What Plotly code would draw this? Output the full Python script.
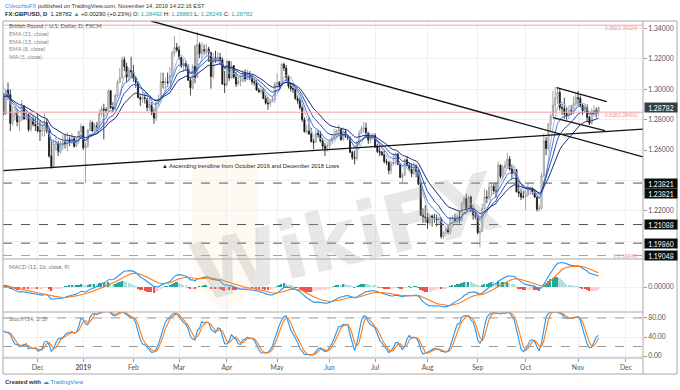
import numpy as np
import pandas as pd
import plotly.graph_objects as go

# ---------------- data (GBP/USD daily, FXCM) ----------------
first_open = 1.3005
holidays = ["2018-12-25", "2019-01-01"]

close_pre = [1.2975, 1.2970, 1.2915, 1.2820, 1.2810, 1.2740, 1.2710, 1.2770, 1.2990, 1.2960, 1.3040, 1.3080, 1.3125, 1.3045]
high_pre = [1.3045, 1.3010, 1.3010, 1.2930, 1.2860, 1.2855, 1.2780, 1.2790, 1.3010, 1.3045, 1.3045, 1.3100, 1.3175, 1.3125]
low_pre = [1.2960, 1.2915, 1.2910, 1.2815, 1.2775, 1.2730, 1.2695, 1.2700, 1.2765, 1.2940, 1.2915, 1.3000, 1.3035, 1.3030]

close_nov18 = [1.2970, 1.2836, 1.2994, 1.2965, 1.2775, 1.2830, 1.2845, 1.2785, 1.2797, 1.2890, 1.2805, 1.2830, 1.2735, 1.2805, 1.2770, 1.2760]
high_nov18 = [1.3050, 1.2975, 1.3000, 1.3045, 1.3000, 1.2880, 1.2885, 1.2870, 1.2825, 1.2930, 1.2895, 1.2865, 1.2840, 1.2855, 1.2830, 1.2815]
low_nov18 = [1.2960, 1.2825, 1.2830, 1.2930, 1.2725, 1.2760, 1.2795, 1.2755, 1.2725, 1.2795, 1.2800, 1.2795, 1.2720, 1.2720, 1.2755, 1.2725]

close_dec18 = [1.2725, 1.2725, 1.2730, 1.2780, 1.2725, 1.2560, 1.2490, 1.2640, 1.2640, 1.2585, 1.2630, 1.2650, 1.2640, 1.2670, 1.2650, 1.2675, 1.2625, 1.2660, 1.2720, 1.2755]
high_dec18 = [1.2840, 1.2795, 1.2785, 1.2840, 1.2810, 1.2745, 1.2670, 1.2670, 1.2690, 1.2660, 1.2660, 1.2700, 1.2700, 1.2720, 1.2690, 1.2710, 1.2685, 1.2680, 1.2730, 1.2775]
low_dec18 = [1.2715, 1.2660, 1.2690, 1.2690, 1.2710, 1.2550, 1.2477, 1.2480, 1.2595, 1.2560, 1.2575, 1.2600, 1.2610, 1.2590, 1.2625, 1.2640, 1.2615, 1.2620, 1.2640, 1.2690]

close_jan19 = [1.2615, 1.2630, 1.2730, 1.2780, 1.2725, 1.2760, 1.2750, 1.2840, 1.2870, 1.2865, 1.2860, 1.2990, 1.2880, 1.2870, 1.2960, 1.3045, 1.3075, 1.3195, 1.3150, 1.3080, 1.3125, 1.3115]
high_jan19 = [1.2760, 1.2650, 1.2740, 1.2800, 1.2790, 1.2780, 1.2785, 1.2865, 1.2890, 1.2905, 1.2880, 1.3000, 1.2995, 1.2915, 1.2970, 1.3060, 1.3140, 1.3215, 1.3215, 1.3175, 1.3145, 1.3215]
low_jan19 = [1.2600, 1.23821, 1.2615, 1.2725, 1.2720, 1.2705, 1.2720, 1.2740, 1.2820, 1.2670, 1.2845, 1.2855, 1.2870, 1.2850, 1.2860, 1.2945, 1.3040, 1.3070, 1.3120, 1.3045, 1.3050, 1.3075]

close_feb19 = [1.3075, 1.3045, 1.2945, 1.2935, 1.2945, 1.2940, 1.2880, 1.2900, 1.2845, 1.2810, 1.2915, 1.2930, 1.3050, 1.3045, 1.3050, 1.3045, 1.3090, 1.3240, 1.3275, 1.3260]
high_feb19 = [1.3160, 1.3090, 1.3045, 1.2960, 1.2990, 1.2975, 1.2945, 1.2945, 1.2915, 1.2870, 1.2925, 1.2965, 1.3110, 1.3110, 1.3075, 1.3110, 1.3145, 1.3255, 1.3350, 1.3305]
low_feb19 = [1.3050, 1.3010, 1.2945, 1.2890, 1.2910, 1.2905, 1.2855, 1.2860, 1.2830, 1.2773, 1.2790, 1.2890, 1.2915, 1.3005, 1.2990, 1.3015, 1.3040, 1.3080, 1.3215, 1.3245]

close_mar19 = [1.3210, 1.3155, 1.3170, 1.3150, 1.3060, 1.3010, 1.3150, 1.3080, 1.3295, 1.3235, 1.3260, 1.3255, 1.3265, 1.3240, 1.3085, 1.3210, 1.3205, 1.3210, 1.3195, 1.3035, 1.3030]
high_mar19 = [1.3285, 1.3215, 1.3200, 1.3190, 1.3165, 1.3075, 1.3165, 1.3290, 1.3380, 1.3310, 1.3310, 1.3295, 1.3300, 1.3280, 1.3250, 1.3240, 1.3255, 1.3245, 1.3240, 1.3210, 1.3120]
low_mar19 = [1.3195, 1.3140, 1.3115, 1.3120, 1.3055, 1.2960, 1.3000, 1.3040, 1.3075, 1.3205, 1.3205, 1.3230, 1.3225, 1.3180, 1.3005, 1.3070, 1.3175, 1.3175, 1.3160, 1.3030, 1.2975]

close_apr19 = [1.3185, 1.3075, 1.3155, 1.3080, 1.3035, 1.3055, 1.3055, 1.3105, 1.3065, 1.3085, 1.3075, 1.3050, 1.3045, 1.2995, 1.2985, 1.2995, 1.2940, 1.2910, 1.2905, 1.2920, 1.2935, 1.3035]
high_apr19 = [1.3195, 1.3185, 1.3185, 1.3160, 1.3115, 1.3080, 1.3095, 1.3125, 1.3130, 1.3130, 1.3120, 1.3095, 1.3070, 1.3060, 1.3010, 1.3015, 1.3010, 1.2960, 1.2950, 1.2935, 1.2955, 1.3050]
low_apr19 = [1.3020, 1.3055, 1.3070, 1.3070, 1.3015, 1.3025, 1.3020, 1.3045, 1.3050, 1.3060, 1.3060, 1.3030, 1.3025, 1.2990, 1.2975, 1.2970, 1.2935, 1.2900, 1.2865, 1.2885, 1.2915, 1.2910]

close_may19 = [1.3045, 1.3025, 1.3165, 1.3140, 1.3080, 1.3020, 1.3005, 1.3000, 1.2940, 1.2925, 1.2880, 1.2800, 1.2720, 1.2725, 1.2705, 1.2655, 1.2650, 1.2710, 1.2700, 1.2660, 1.2625, 1.2610, 1.2630]
high_may19 = [1.3105, 1.3055, 1.3175, 1.3175, 1.3160, 1.3095, 1.3045, 1.3035, 1.3010, 1.2960, 1.2945, 1.2900, 1.2815, 1.2765, 1.2815, 1.2745, 1.2675, 1.2735, 1.2730, 1.2725, 1.2680, 1.2645, 1.2645]
low_may19 = [1.3010, 1.3000, 1.3015, 1.3120, 1.3050, 1.3005, 1.2985, 1.2975, 1.2930, 1.2905, 1.2865, 1.2785, 1.2715, 1.2705, 1.2700, 1.2650, 1.2605, 1.2650, 1.2680, 1.2650, 1.2605, 1.2560, 1.2590]

close_jun19 = [1.2655, 1.2680, 1.2690, 1.2725, 1.2735, 1.2670, 1.2720, 1.2690, 1.2680, 1.2585, 1.2550, 1.2545, 1.2650, 1.2710, 1.2740, 1.2745, 1.2710, 1.2665, 1.2690, 1.2695]
high_jun19 = [1.2665, 1.2700, 1.2740, 1.2735, 1.2765, 1.2740, 1.2750, 1.2740, 1.2700, 1.2690, 1.2595, 1.2595, 1.2660, 1.2730, 1.2760, 1.2785, 1.2780, 1.2720, 1.2700, 1.2710]
low_jun19 = [1.2600, 1.2650, 1.2665, 1.2680, 1.2690, 1.2660, 1.2660, 1.2680, 1.2665, 1.2580, 1.2535, 1.2505, 1.2530, 1.2625, 1.2705, 1.2715, 1.2690, 1.2640, 1.2645, 1.2665]

close_jul19 = [1.2620, 1.2590, 1.2585, 1.2570, 1.2525, 1.2520, 1.2465, 1.2510, 1.2520, 1.2575, 1.2505, 1.2420, 1.2435, 1.2535, 1.2500, 1.2475, 1.2445, 1.2490, 1.2460, 1.2375, 1.2170, 1.2160, 1.2155]
high_jul19 = [1.2710, 1.2640, 1.2620, 1.2595, 1.2595, 1.2540, 1.2525, 1.2525, 1.2580, 1.2585, 1.2575, 1.2510, 1.2450, 1.2545, 1.2560, 1.2515, 1.2510, 1.2520, 1.2505, 1.2470, 1.2380, 1.2215, 1.2235]
low_jul19 = [1.2615, 1.2580, 1.2560, 1.2560, 1.2510, 1.2500, 1.2440, 1.2440, 1.2495, 1.2505, 1.2500, 1.2415, 1.2385, 1.2430, 1.2490, 1.2460, 1.2420, 1.2435, 1.2420, 1.2370, 1.2165, 1.2120, 1.2120]

close_aug19 = [1.2120, 1.2165, 1.2155, 1.2150, 1.2140, 1.2145, 1.2030, 1.2055, 1.2080, 1.2060, 1.2150, 1.2150, 1.2135, 1.2160, 1.2135, 1.2245, 1.2280, 1.2210, 1.2290, 1.2215, 1.2170, 1.2160]
high_aug19 = [1.2185, 1.2175, 1.2175, 1.2180, 1.2175, 1.2160, 1.2155, 1.2065, 1.2095, 1.2105, 1.2160, 1.2170, 1.2180, 1.2180, 1.2200, 1.2260, 1.2295, 1.2310, 1.2300, 1.2300, 1.2240, 1.2200]
low_aug19 = [1.2080, 1.2105, 1.2095, 1.2120, 1.2095, 1.2110, 1.2015, 1.2015, 1.2030, 1.2045, 1.2045, 1.2100, 1.2125, 1.2110, 1.2115, 1.2125, 1.2215, 1.2195, 1.2205, 1.2190, 1.2140, 1.2145]

close_sep19 = [1.2055, 1.2065, 1.2215, 1.2290, 1.2285, 1.2355, 1.2360, 1.2330, 1.2330, 1.2500, 1.2425, 1.2485, 1.2500, 1.2540, 1.2475, 1.2445, 1.2470, 1.2325, 1.2315, 1.2290, 1.2290]
high_sep19 = [1.2160, 1.2095, 1.2245, 1.2345, 1.2335, 1.2385, 1.2385, 1.2380, 1.2385, 1.2525, 1.2505, 1.2500, 1.2530, 1.2580, 1.2560, 1.2505, 1.2500, 1.2475, 1.2385, 1.2345, 1.2330]
low_sep19 = [1.2045, 1.1959, 1.2060, 1.2205, 1.2250, 1.2270, 1.2295, 1.2310, 1.2285, 1.2330, 1.2410, 1.2405, 1.2435, 1.2475, 1.2465, 1.2410, 1.2430, 1.2320, 1.2290, 1.2270, 1.2280]

close_oct19 = [1.2305, 1.2335, 1.2345, 1.2325, 1.2290, 1.2210, 1.2215, 1.2430, 1.2660, 1.2610, 1.2770, 1.2825, 1.2895, 1.2945, 1.2980, 1.2880, 1.2875, 1.2840, 1.2825, 1.2860, 1.2850, 1.2905, 1.2945]
high_oct19 = [1.2340, 1.2380, 1.2355, 1.2355, 1.2335, 1.2295, 1.2240, 1.2450, 1.2710, 1.2685, 1.2780, 1.2840, 1.2990, 1.3015, 1.3015, 1.3005, 1.2905, 1.2945, 1.2885, 1.2895, 1.2895, 1.2955, 1.2975]
low_oct19 = [1.2205, 1.2290, 1.2305, 1.2305, 1.2285, 1.2195, 1.2195, 1.2205, 1.2420, 1.2565, 1.2595, 1.2720, 1.2815, 1.2845, 1.2905, 1.2860, 1.2830, 1.2805, 1.2800, 1.2805, 1.2830, 1.2835, 1.2890]

close_nov19 = [1.2940, 1.2895, 1.2860, 1.2880, 1.2815, 1.2775, 1.2855, 1.2860, 1.28492, 1.28782]
high_nov19 = [1.2990, 1.2960, 1.2905, 1.2900, 1.2900, 1.2825, 1.2875, 1.2895, 1.2880, 1.28883]
low_nov19 = [1.2890, 1.2880, 1.2830, 1.2845, 1.2790, 1.2765, 1.2770, 1.2820, 1.2815, 1.28249]

# drawn levels / studies on the chart
level_lines = [1.23821, 1.21088, 1.19860]
fib_levels = [(1.34224, "0.382(1.34224)"), (1.28491, "0.618(1.28491)")]
fib_one = (1.19048, "1 (1.19048)")
# trendlines as (bar index, price) anchors
trend_desc = [(65.7, 1.3450), (281.5, 1.2554)]
trend_asc = [(0.79, 1.2464), (281.5, 1.2737)]
chan_upper = [(243.6, 1.3011), (265.6, 1.2918)]
chan_lower = [(242.0, 1.2813), (264.8, 1.2727)]

# ---------------- assemble ----------------
closes = np.array(close_pre + close_nov18 + close_dec18 + close_jan19 + close_feb19 + close_mar19 +
                  close_apr19 + close_may19 + close_jun19 + close_jul19 + close_aug19 + close_sep19 +
                  close_oct19 + close_nov19)
highs = np.array(high_pre + high_nov18 + high_dec18 + high_jan19 + high_feb19 + high_mar19 +
                 high_apr19 + high_may19 + high_jun19 + high_jul19 + high_aug19 + high_sep19 +
                 high_oct19 + high_nov19)
lows = np.array(low_pre + low_nov18 + low_dec18 + low_jan19 + low_feb19 + low_mar19 +
                low_apr19 + low_may19 + low_jun19 + low_jul19 + low_aug19 + low_sep19 +
                low_oct19 + low_nov19)
dates = pd.bdate_range("2018-10-22", "2019-11-14")
dates = dates[~dates.isin(pd.to_datetime(holidays))]
assert len(dates) == len(closes) == len(highs) == len(lows), (len(dates), len(closes), len(highs), len(lows))
opens = np.concatenate([[first_open], closes[:-1]])
highs = np.maximum.reduce([highs, opens, closes])
lows = np.minimum.reduce([lows, opens, closes])

offset = int(np.where(dates == pd.Timestamp("2018-11-09"))[0][0])
xi = np.arange(len(dates)) - offset

c = pd.Series(closes)
ema21 = c.ewm(span=21, adjust=False).mean()
ema13 = c.ewm(span=13, adjust=False).mean()
ema8 = c.ewm(span=8, adjust=False).mean()
ma5 = c.rolling(5).mean()
macd = c.ewm(span=12, adjust=False).mean() - c.ewm(span=26, adjust=False).mean()
signal = macd.ewm(span=9, adjust=False).mean()
hist = macd - signal
hh = pd.Series(highs).rolling(14).max()
ll = pd.Series(lows).rolling(14).min()
rawk = 100 * (c - ll) / (hh - ll)
stk = rawk.rolling(3).mean()
std = stk.rolling(3).mean()

hcol = []
for i in range(len(hist)):
    prev = hist.iloc[i - 1] if i > 0 else 0
    h = hist.iloc[i]
    if h >= 0:
        hcol.append('#26a69a' if h >= prev else '#b2dfdb')
    else:
        hcol.append('#ffcdd2' if h >= prev else '#ef5350')

# month ticks (incl. future bars to Dec 2019)
fut = pd.bdate_range("2019-11-15", "2019-12-31")
all_dates = dates.append(fut)
all_x = np.arange(len(all_dates)) - offset
tickvals, ticktext = [], []
seen = set()
for d, x in zip(all_dates, all_x):
    key = (d.year, d.month)
    if key in seen:
        continue
    seen.add(key)
    if x < 0 or x > 281:
        continue
    tickvals.append(int(x))
    ticktext.append("<b>2019</b>" if d.month == 1 else d.strftime("%b"))

# ---------------- geometry ----------------
W, H = 680, 390
ML, MR, MT, MB = 3, 37, 21, 32
PW, PH = W - ML - MR, H - MT - MB
X_RANGE = [0.79, 281.5]
P_RANGE = [1.18817, 1.34501]
D_PRICE = [(358 - 259) / PH, 1]
D_MACD = [(358 - 312) / PH, (358 - 259) / PH]
D_STOCH = [0, (358 - 312) / PH]

def px(xp):
    return (xp - ML) / PW

def py(yp):
    return (H - MB - yp) / PH

vis = xi >= 0
mmax = float(np.nanmax(np.abs(macd[vis])))
m_top = mmax * 28 / 24.5
m_bot = -m_top * 25 / 28

GRID = '#eef0f3'
FR = '#a8a8a8'
TXT = '#555555'

fig = go.Figure()
fig.add_trace(go.Candlestick(
    x=xi, open=opens, high=highs, low=lows, close=closes, xaxis='x', yaxis='y',
    increasing=dict(line=dict(color='#8e8e8e', width=0.8), fillcolor='#ffffff'),
    decreasing=dict(line=dict(color='#151515', width=0.8), fillcolor='#151515'),
    whiskerwidth=0, showlegend=False))
for s, col in [(ma5, '#9fb8e6'), (ema8, '#4a7bd3'), (ema13, '#2c4fae'), (ema21, '#1c2a7e')]:
    fig.add_trace(go.Scatter(x=xi, y=s, mode='lines', line=dict(color=col, width=1),
                             xaxis='x', yaxis='y', showlegend=False, hoverinfo='skip'))

fig.add_trace(go.Bar(x=xi, y=hist, marker=dict(color=hcol, line=dict(width=0)), width=0.7,
                     xaxis='x2', yaxis='y2', showlegend=False))
fig.add_trace(go.Scatter(x=xi, y=macd, mode='lines', line=dict(color='#2196f3', width=1.1),
                         xaxis='x2', yaxis='y2', showlegend=False))
fig.add_trace(go.Scatter(x=xi, y=signal, mode='lines', line=dict(color='#ff7a14', width=1.1),
                         xaxis='x2', yaxis='y2', showlegend=False))

fig.add_trace(go.Scatter(x=xi, y=stk, mode='lines', line=dict(color='#2196f3', width=1.1),
                         xaxis='x3', yaxis='y3', showlegend=False))
fig.add_trace(go.Scatter(x=xi, y=std, mode='lines', line=dict(color='#ff7a14', width=1.1),
                         xaxis='x3', yaxis='y3', showlegend=False))

shapes = []
# watermark shield
shapes.append(dict(type='path', xref='paper', yref='paper', layer='below',
                   path=f"M {px(192)},{py(165)} Q {px(225)},{py(150)} {px(258)},{py(165)} L {px(258)},{py(250)} "
                        f"Q {px(258)},{py(295)} {px(225)},{py(312)} Q {px(192)},{py(295)} {px(192)},{py(250)} Z",
                   fillcolor='rgba(248,226,175,0.18)', line=dict(width=0)))
# fib lines
for lv, _ in fib_levels:
    shapes.append(dict(type='line', xref='x', yref='y', x0=X_RANGE[0], x1=X_RANGE[1], y0=lv, y1=lv,
                       line=dict(color='#f3a5a5', width=1)))
shapes.append(dict(type='line', xref='x', yref='y', x0=X_RANGE[0], x1=X_RANGE[1], y0=fib_one[0], y1=fib_one[0],
                   line=dict(color='#e58a8a', width=1, dash='dash')))
for lv in level_lines:
    shapes.append(dict(type='line', xref='x', yref='y', x0=X_RANGE[0], x1=X_RANGE[1], y0=lv, y1=lv,
                       line=dict(color='#555555', width=1, dash='dash')))
for tl in (trend_desc, trend_asc, chan_upper, chan_lower):
    shapes.append(dict(type='line', xref='x', yref='y', x0=tl[0][0], y0=tl[0][1], x1=tl[1][0], y1=tl[1][1],
                       line=dict(color='#111111', width=1.3)))
# stochastic bands
for lv in (80, 20):
    shapes.append(dict(type='line', xref='x3', yref='y3', x0=X_RANGE[0], x1=X_RANGE[1], y0=lv, y1=lv,
                       line=dict(color='#9a9a9a', width=1, dash='dash')))
# frames
shapes.append(dict(type='rect', xref='paper', yref='paper', x0=0, x1=px(677), y0=py(374), y1=1,
                   line=dict(color=FR, width=1)))
shapes.append(dict(type='line', xref='paper', yref='paper', x0=1, x1=1, y0=py(374), y1=1,
                   line=dict(color=FR, width=1)))
for yy in (259, 312, 358):
    shapes.append(dict(type='line', xref='paper', yref='paper', x0=0, x1=1, y0=py(yy), y1=py(yy),
                       line=dict(color=FR, width=1)))

ann = []
def text(xp, yp, t, size=6, color=TXT, family='Liberation Sans', anchor='left', **kw):
    ann.append(dict(xref='paper', yref='paper', x=px(xp), y=py(yp), text=t, showarrow=False,
                    xanchor=anchor, yanchor='middle', font=dict(size=size, color=color, family=family), **kw))

# watermark
text(345, 238, "<b>WikiFX</b>", size=80, color='rgba(170,170,170,0.28)', family='DejaVu Sans', anchor='center',
     textangle=-14)

last, prev = closes[-1], closes[-2]
chg = last - prev
pct = chg / prev * 100
g = '#26a69a'
text(3, 6, "<span style='color:#3d85c6'>CVecchioFX</span> published on TradingView.com, November 14, 2019 14:22:16 EST",
     size=5.7, color='#333333')
text(3, 14, f"<b>FX:GBPUSD, D</b>  {last:.5f} <span style='color:{g}'>▲</span> {chg:+.5f} ({pct:+.2f}%) "
            f"O: <span style='color:{g}'>{opens[-1]:.5f}</span> H: <span style='color:{g}'>{highs[-1]:.5f}</span> "
            f"L: <span style='color:{g}'>{lows[-1]:.5f}</span> C: <span style='color:{g}'>{last:.5f}</span>",
     size=5.9, color='#222222')
text(7, 25.7, "British Pound / U.S. Dollar, D, FXCM", size=5.8, color='#555555', family='Lato')
for yy, t in [(33.7, "EMA (21, close)"), (41.3, "EMA (13, close)"), (48.7, "EMA (8, close)"), (56, "MA (5, close)")]:
    text(7, yy, t, size=5.8, color='#8a8a8a', family='Lato')
text(7, 266.5, "MACD (12, 26, close, 9)", size=5.8, color='#777777', family='Lato')
text(7, 318.5, "Stoch (14, 3, 3)", size=5.8, color='#777777', family='Lato')
text(160, 165.7, "▲ Ascending trendline from October 2016 and December 2018 Lows", size=5.8, color='#222222')
text(3, 382.5, "<b>Created with</b> <span style='color:#2a8ad8'>☁ TradingView</span>", size=6, color='#333333')

# fib labels
for lv, lab in fib_levels:
    ann.append(dict(xref='paper', yref='y', x=px(640), y=lv, yshift=-3, text=lab, showarrow=False,
                    xanchor='right', yanchor='middle', font=dict(size=4.8, color='#ef8f8f', family='Liberation Sans')))
ann.append(dict(xref='paper', yref='y', x=px(640), y=fib_one[0], yshift=-1, text=fib_one[1], showarrow=False,
                xanchor='right', yanchor='middle', font=dict(size=4.8, color='#ef8f8f', family='Liberation Sans')))

# right-axis price boxes
def pbox(val, bg, shift=0):
    ann.append(dict(xref='paper', yref='y', x=px(644), y=val, yshift=shift, text=f"{val:.5f}", showarrow=False,
                    xanchor='left', yanchor='middle', bgcolor=bg, width=32, height=9, borderpad=0,
                    font=dict(size=6.8, color='#ffffff', family='Lato')))
pbox(last, '#3a3d44')
pbox(level_lines[0], '#0c0c0c')
pbox(level_lines[0], '#0c0c0c', shift=-10.5)
pbox(level_lines[1], '#0c0c0c')
pbox(level_lines[2], '#0c0c0c')
pbox(fib_one[0], '#0c0c0c')

price_ticks = [1.20, 1.22, 1.24, 1.26, 1.28, 1.30, 1.32, 1.34]
hidden_ticks = [1.20, 1.24]   # covered by the level boxes in the reference
axfont = dict(size=6.8, color=TXT, family='Lato')
xcommon = dict(range=X_RANGE, tickvals=tickvals, showgrid=True, gridcolor=GRID, gridwidth=1,
               zeroline=False, showline=False, fixedrange=True)
ycommon = dict(side='right', showgrid=True, gridcolor=GRID, zeroline=False, showline=False,
               ticks='outside', ticklen=3, tickcolor='#999999', tickfont=axfont)

fig.update_layout(
    width=W, height=H, margin=dict(l=ML, r=MR, t=MT, b=MB),
    paper_bgcolor='white', plot_bgcolor='white', showlegend=False, bargap=0,
    xaxis=dict(domain=[0, 1], anchor='y', showticklabels=False, rangeslider=dict(visible=False), **xcommon),
    xaxis2=dict(domain=[0, 1], anchor='y2', matches='x', showticklabels=False, **xcommon),
    xaxis3=dict(domain=[0, 1], anchor='y3', matches='x', showticklabels=True, ticktext=ticktext,
                ticks='outside', ticklen=3, tickcolor='#999999', tickfont=dict(size=6.8, color=TXT, family='Lato'),
                **xcommon),
    yaxis=dict(domain=D_PRICE, anchor='x', range=P_RANGE, tickvals=price_ticks,
               ticktext=["" if v in hidden_ticks else f"{v:.5f}" for v in price_ticks], **ycommon),
    yaxis2=dict(domain=D_MACD, anchor='x2', range=[m_bot, m_top], tickvals=[0], ticktext=["0.00000"], **ycommon),
    yaxis3=dict(domain=D_STOCH, anchor='x3', range=[-4.2, 92.6], tickvals=[0, 40, 80],
                ticktext=["0.00", "40.00", "80.00"], **ycommon),
    shapes=shapes, annotations=ann,
)

fig.write_html("out.html", config={'displayModeBar': False},
               post_script="document.body.style.margin='0';document.body.style.padding='0';")
